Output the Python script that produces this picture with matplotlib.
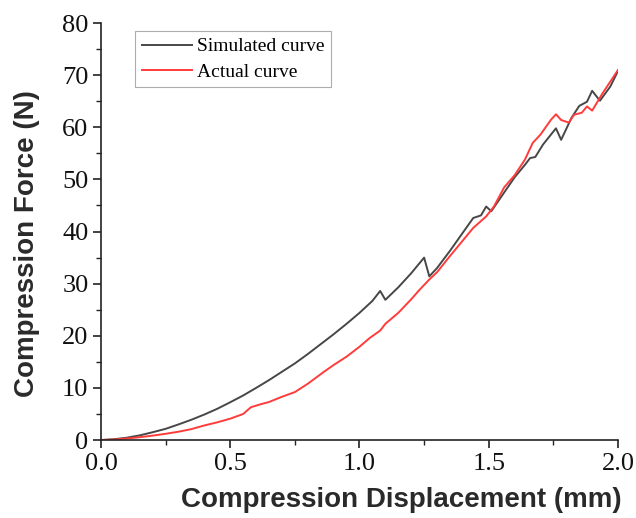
import matplotlib
matplotlib.use("Agg")
import matplotlib.pyplot as plt
from matplotlib.ticker import MultipleLocator

# Simulated curve
sim_x = [0.00, 0.05, 0.10, 0.15, 0.20, 0.25, 0.30, 0.35, 0.40, 0.45, 0.50,
         0.55, 0.60, 0.65, 0.70, 0.75, 0.80, 0.85, 0.90, 0.95, 1.00, 1.05,
         1.08, 1.10, 1.15, 1.20, 1.25, 1.27, 1.30, 1.35, 1.40, 1.44, 1.47,
         1.49, 1.51, 1.55, 1.60, 1.64, 1.66, 1.68, 1.71, 1.76, 1.78, 1.82,
         1.85, 1.88, 1.90, 1.93, 1.97, 2.00]
sim_y = [0.0, 0.15, 0.45, 0.9, 1.5, 2.15, 3.0, 3.9, 4.9, 6.0, 7.25,
         8.55, 10.0, 11.5, 13.1, 14.7, 16.5, 18.4, 20.3, 22.3, 24.4, 26.7,
         28.6, 26.9, 29.3, 32.0, 35.0, 31.4, 33.0, 36.3, 39.8, 42.6, 43.1,
         44.8, 43.9, 46.8, 50.4, 52.8, 54.1, 54.3, 56.7, 59.8, 57.6, 61.8,
         64.1, 64.9, 67.0, 65.1, 67.8, 70.8]

# Actual curve
act_x = [0.00, 0.05, 0.10, 0.15, 0.20, 0.25, 0.30, 0.35, 0.40, 0.45, 0.50,
         0.55, 0.58, 0.62, 0.65, 0.70, 0.75, 0.80, 0.86, 0.90, 0.95, 1.00,
         1.04, 1.08, 1.10, 1.15, 1.20, 1.23, 1.27, 1.30, 1.35, 1.40, 1.44,
         1.49, 1.52, 1.56, 1.60, 1.64, 1.67, 1.70, 1.74, 1.76, 1.78, 1.81,
         1.83, 1.86, 1.88, 1.90, 1.94, 2.00]
act_y = [0.0, 0.1, 0.3, 0.55, 0.85, 1.2, 1.6, 2.1, 2.8, 3.4, 4.1,
         5.0, 6.3, 6.9, 7.3, 8.3, 9.2, 10.8, 13.0, 14.4, 16.0, 17.9,
         19.6, 21.0, 22.3, 24.4, 27.0, 28.7, 30.8, 32.2, 35.3, 38.3, 40.7,
         42.9, 44.8, 48.5, 50.8, 53.8, 57.0, 58.6, 61.4, 62.5, 61.4, 60.9,
         62.4, 62.8, 64.0, 63.2, 66.5, 71.0]

serif = "Liberation Serif"
sans = "Liberation Sans"

fig = plt.figure(figsize=(6.36, 5.18), dpi=100)
ax = fig.add_axes([0.1588, 0.1505, 0.8129, 0.805])

ax.plot(sim_x, sim_y, color="#474747", lw=1.4, label="Simulated curve")
ax.plot(act_x, act_y, color="#ff3b3b", lw=1.4, label="Actual curve")

ax.set_xlim(0, 2.0)
ax.set_ylim(0, 80)
ax.xaxis.set_major_locator(MultipleLocator(0.5))
ax.xaxis.set_minor_locator(MultipleLocator(0.25))
ax.yaxis.set_major_locator(MultipleLocator(10))
ax.yaxis.set_minor_locator(MultipleLocator(5))
ax.set_xticklabels([f"{v:.1f}" for v in ax.get_xticks()])

for side in ["top", "right"]:
    ax.spines[side].set_visible(False)
for side in ["left", "bottom"]:
    ax.spines[side].set_linewidth(1.2)
    ax.spines[side].set_color("#222222")

ax.tick_params(which="major", direction="out", length=6, width=1.2,
               color="#222222", labelsize=19, pad=3)
ax.tick_params(which="minor", direction="out", length=3.5, width=1.0,
               color="#222222")
for lab in ax.get_xticklabels() + ax.get_yticklabels():
    lab.set_fontfamily(serif)
    lab.set_color("#111111")

ax.set_xlabel("Compression Displacement (mm)", fontsize=20, fontweight="bold",
              family=sans, color="#2a2a2a")
ax.set_ylabel("Compression Force (N)", fontsize=20, fontweight="bold",
              family=sans, color="#2a2a2a")
ax.xaxis.set_label_coords(0.58, -0.112)
ax.yaxis.set_label_coords(-0.118, 0.472)

leg = ax.legend(loc="upper left", bbox_to_anchor=(0.066, 0.981),
                prop={"family": serif, "size": 14}, frameon=True,
                fancybox=False, handlelength=2.55, borderpad=0.35,
                labelspacing=0.39, handletextpad=0.26, borderaxespad=0)
leg.get_frame().set_edgecolor("#999999")
leg.get_frame().set_linewidth(0.8)

fig.savefig("out.png", dpi=100)
